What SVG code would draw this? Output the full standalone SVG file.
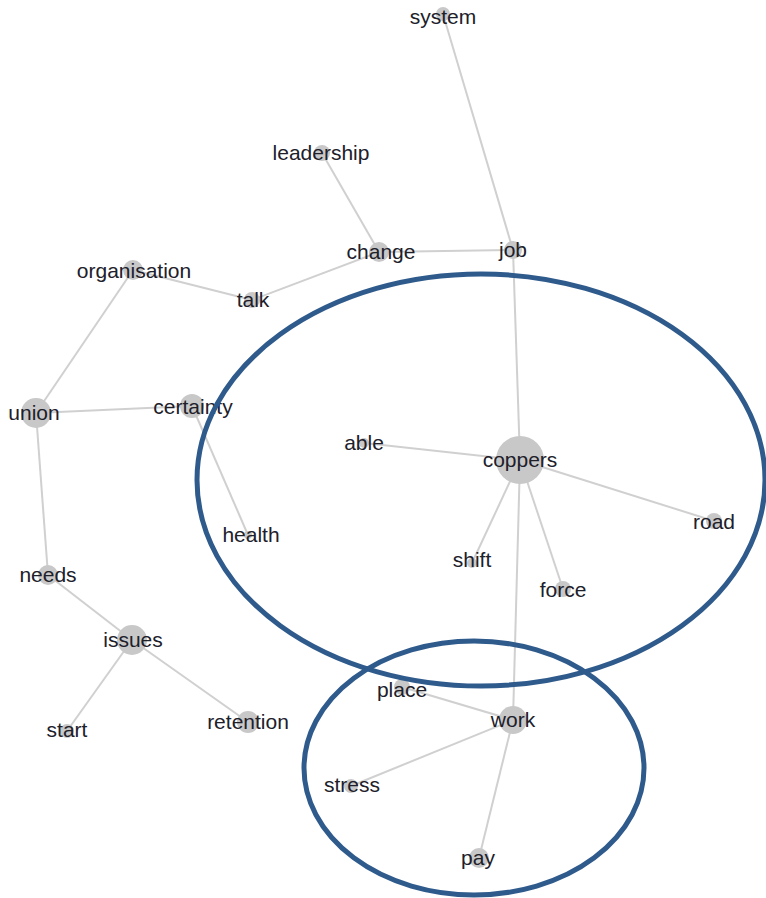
<svg xmlns="http://www.w3.org/2000/svg" width="766" height="898" viewBox="0 0 766 898">
<style>
.e{stroke:#d0d0d0;stroke-width:2;fill:none}
.n circle{fill:#c8c8c8}
.n text{font-family:"Liberation Sans",Arial,sans-serif;font-size:21px;fill:#20202a;text-anchor:middle}
.hl{fill:none;stroke:#2f5a8c;stroke-width:5}
</style>
<rect width="766" height="898" fill="#fff"/>
<g id="connectors">
<line class="e" x1="443" y1="14" x2="513" y2="250"/>
<line class="e" x1="322" y1="153" x2="379" y2="252"/>
<line class="e" x1="379" y1="252" x2="513" y2="250"/>
<line class="e" x1="379" y1="252" x2="252" y2="300"/>
<line class="e" x1="252" y1="300" x2="133" y2="270"/>
<line class="e" x1="133" y1="270" x2="36" y2="413"/>
<line class="e" x1="36" y1="413" x2="192" y2="406"/>
<line class="e" x1="192" y1="406" x2="248" y2="535"/>
<line class="e" x1="36" y1="413" x2="48" y2="575"/>
<line class="e" x1="48" y1="575" x2="132" y2="640"/>
<line class="e" x1="132" y1="640" x2="67" y2="731"/>
<line class="e" x1="132" y1="640" x2="248" y2="722"/>
<line class="e" x1="513" y1="250" x2="520" y2="460"/>
<line class="e" x1="520" y1="460" x2="364" y2="443"/>
<line class="e" x1="520" y1="460" x2="714" y2="521"/>
<line class="e" x1="520" y1="460" x2="472" y2="563"/>
<line class="e" x1="520" y1="460" x2="563" y2="589"/>
<line class="e" x1="520" y1="460" x2="513" y2="720"/>
<line class="e" x1="513" y1="720" x2="402" y2="687"/>
<line class="e" x1="513" y1="720" x2="351" y2="786"/>
<line class="e" x1="513" y1="720" x2="479" y2="858"/>
</g>
<g id="system" class="n"><circle cx="443" cy="14" r="7"/><text x="443" y="24">system</text></g>
<g id="leadership" class="n"><circle cx="322" cy="153" r="8"/><text x="321" y="160">leadership</text></g>
<g id="change" class="n"><circle cx="379" cy="252" r="10"/><text x="381" y="259">change</text></g>
<g id="job" class="n"><circle cx="513" cy="250" r="9"/><text x="513" y="257">job</text></g>
<g id="organisation" class="n"><circle cx="133" cy="270" r="10"/><text x="134" y="278">organisation</text></g>
<g id="talk" class="n"><circle cx="252" cy="300" r="8"/><text x="253" y="307">talk</text></g>
<g id="union" class="n"><circle cx="36" cy="413" r="15"/><text x="34" y="420">union</text></g>
<g id="certainty" class="n"><circle cx="192" cy="406" r="12"/><text x="193" y="414">certainty</text></g>
<g id="able" class="n"><circle cx="364" cy="443" r="5"/><text x="364" y="450">able</text></g>
<g id="coppers" class="n"><circle cx="520" cy="460" r="24"/><text x="520" y="467">coppers</text></g>
<g id="health" class="n"><circle cx="248" cy="535" r="4"/><text x="251" y="542">health</text></g>
<g id="road" class="n"><circle cx="714" cy="521" r="8"/><text x="714" y="529">road</text></g>
<g id="shift" class="n"><circle cx="472" cy="563" r="5"/><text x="472" y="567">shift</text></g>
<g id="force" class="n"><circle cx="563" cy="589" r="8"/><text x="563" y="597">force</text></g>
<g id="needs" class="n"><circle cx="48" cy="575" r="10"/><text x="48" y="582">needs</text></g>
<g id="issues" class="n"><circle cx="132" cy="640" r="15"/><text x="133" y="647">issues</text></g>
<g id="start" class="n"><circle cx="67" cy="731" r="7"/><text x="67" y="737">start</text></g>
<g id="retention" class="n"><circle cx="248" cy="722" r="11"/><text x="248" y="729">retention</text></g>
<g id="place" class="n"><circle cx="402" cy="687" r="8"/><text x="402" y="697">place</text></g>
<g id="work" class="n"><circle cx="513" cy="720" r="14"/><text x="513" y="727">work</text></g>
<g id="stress" class="n"><circle cx="351" cy="786" r="7"/><text x="352" y="792">stress</text></g>
<g id="pay" class="n"><circle cx="479" cy="858" r="10"/><text x="478" y="865">pay</text></g>
<g id="highlights">
<ellipse class="hl" cx="481" cy="480" rx="284" ry="206"/>
<ellipse class="hl" cx="474" cy="768" rx="170" ry="127"/>
</g>
</svg>
